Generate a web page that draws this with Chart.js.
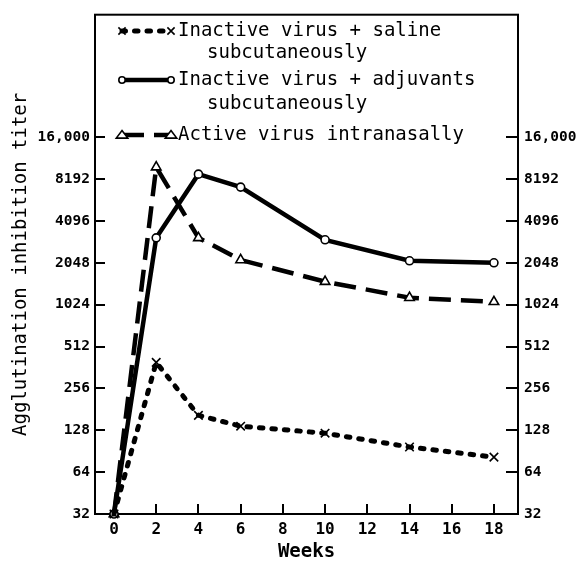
<!DOCTYPE html>
<html><head><meta charset="utf-8">
<script src="https://cdn.jsdelivr.net/npm/chart.js@4.4.1/dist/chart.umd.min.js"></script>
<style>html,body{margin:0;padding:0;background:#fff}#wrap{width:577px;height:562px}</style>
</head><body><div id="wrap"><canvas id="c" width="577" height="562"></canvas></div>
<script>
// ---- data ----
const weeks = [0, 2, 4, 6, 10, 14, 18];
const salineTiter = [32, 394, 164, 137, 122, 97, 82];
const adjuvantTiter = [32, 3100, 8900, 7180, 3000, 2120, 2050];
const activeTiter = [32, 10000, 3100, 2150, 1500, 1150, 1075];
const xTickValues = [0, 2, 4, 6, 8, 10, 12, 14, 16, 18];
const yTickValues = [32, 64, 128, 256, 512, 1024, 2048, 4096, 8192, 16384];
const yTickLabels = ['32', '64', '128', '256', '512', '1024', '2048', '4096', '8192', '16,000'];
const seriesNames = [
  ['Inactive virus + saline', 'subcutaneously'],
  ['Inactive virus + adjuvants', 'subcutaneously'],
  ['Active virus intranasally']
];
const xTitle = 'Weeks';
const yTitle = 'Agglutination inhibition titer';

// ---- styling ----
const FONT = "'DejaVu Sans Mono', 'Liberation Mono', monospace";
const toPts = (vals) => weeks.map((w, i) => ({ x: w, y: vals[i] }));

const datasets = [
  { label: seriesNames[0].join(' '), data: toPts(salineTiter), borderColor: '#000', backgroundColor: '#000',
    borderWidth: 5, borderDash: [3.5, 9], borderCapStyle: 'round',
    pointStyle: 'crossRot', pointRadius: 6, pointBorderWidth: 1.6, pointBorderColor: '#000', pointBackgroundColor: '#fff' },
  { label: seriesNames[1].join(' '), data: toPts(adjuvantTiter), borderColor: '#000', backgroundColor: '#000',
    borderWidth: 4.5, borderDash: [], borderCapStyle: 'butt',
    pointStyle: 'circle', pointRadius: 4, pointBorderWidth: 1.6, pointBorderColor: '#000', pointBackgroundColor: '#fff' },
  { label: seriesNames[2].join(' '), data: toPts(activeTiter), borderColor: '#000', backgroundColor: '#000',
    borderWidth: 4.5, borderDash: [22, 10], borderCapStyle: 'butt',
    pointStyle: 'triangle', pointRadius: 5.5, pointBorderWidth: 1.6, pointBorderColor: '#000', pointBackgroundColor: '#fff' }
];
datasets.forEach(d => { d.tension = 0; d.fill = false; d.clip = 10; d.xAxisID = 'x'; d.yAxisID = 'y'; });

function drawMarker(ctx, style, x, y, r) {
  ctx.save();
  ctx.lineWidth = 1.6; ctx.strokeStyle = '#000'; ctx.fillStyle = '#fff'; ctx.setLineDash([]);
  ctx.beginPath();
  if (style === 'crossRot') {
    const d = r * 0.75;
    ctx.moveTo(x - d, y - d); ctx.lineTo(x + d, y + d);
    ctx.moveTo(x + d, y - d); ctx.lineTo(x - d, y + d);
    ctx.stroke();
  } else if (style === 'circle') {
    ctx.arc(x, y, r, 0, Math.PI * 2); ctx.fill(); ctx.stroke();
  } else {
    const w = r * 1.3;
    ctx.moveTo(x, y - r); ctx.lineTo(x + w, y + r * 0.7); ctx.lineTo(x - w, y + r * 0.7); ctx.closePath();
    ctx.fill(); ctx.stroke();
  }
  ctx.restore();
}

const framePlugin = {
  id: 'frame',
  beforeDatasetsDraw(chart) {
    const { ctx, chartArea: a, scales } = chart;
    ctx.save();
    ctx.strokeStyle = '#000'; ctx.lineWidth = 2; ctx.setLineDash([]);
    ctx.strokeRect(a.left, a.top, a.right - a.left, a.bottom - a.top);
    ctx.beginPath();
    yTickValues.forEach(v => {
      if (v === yTickValues[0]) return;
      const y = Math.round(scales.y.getPixelForValue(v));
      ctx.moveTo(a.left, y); ctx.lineTo(a.left + 10, y);
      ctx.moveTo(a.right - 12, y); ctx.lineTo(a.right, y);
    });
    xTickValues.forEach(v => {
      const x = Math.round(scales.x.getPixelForValue(v));
      ctx.moveTo(x, a.bottom); ctx.lineTo(x, a.bottom - 10);
    });
    ctx.stroke();
    ctx.restore();
  }
};

const legendPlugin = {
  id: 'legendCustom',
  afterDraw(chart) {
    const { ctx } = chart;
    const rows = [[31, 53], [80, 104], [135]];
    const x1 = 122, x2 = 171, tx = 178, tx2 = 207;
    ctx.save();
    chart.data.datasets.forEach((ds, i) => {
      const y = rows[i][0];
      ctx.save();
      ctx.strokeStyle = '#000'; ctx.lineWidth = ds.borderWidth;
      ctx.lineCap = ds.borderCapStyle; ctx.setLineDash(ds.borderDash);
      ctx.beginPath(); ctx.moveTo(x1, y); ctx.lineTo(x2, y); ctx.stroke();
      ctx.restore();
      drawMarker(ctx, ds.pointStyle, x1, y, ds.pointRadius * 0.8);
      drawMarker(ctx, ds.pointStyle, x2, y, ds.pointRadius * 0.8);
      ctx.fillStyle = '#000'; ctx.font = '19px ' + FONT; ctx.textBaseline = 'middle'; ctx.textAlign = 'left';
      seriesNames[i].forEach((t, j) => ctx.fillText(t, j === 0 ? tx : tx2, rows[i][j]));
    });
    ctx.restore();
  }
};

const yTickCb = (v) => { const i = yTickValues.indexOf(v); return i >= 0 ? yTickLabels[i] : ''; };
const setYTicks = (s) => { s.ticks = yTickValues.map(v => ({ value: v })); };
const yMax = 124800;
const tickFont = { family: FONT, size: 14.5, weight: 'bold' };

new Chart(document.getElementById('c'), {
  type: 'line',
  data: { datasets },
  plugins: [framePlugin, legendPlugin],
  options: {
    responsive: false, animation: false, devicePixelRatio: 1,
    layout: { padding: { top: 13, left: 0, right: 0, bottom: 0 } },
    plugins: { legend: { display: false }, tooltip: { enabled: false } },
    scales: {
      x: {
        type: 'linear', position: 'bottom', min: -0.9, max: 19.14,
        afterBuildTicks: (s) => { s.ticks = xTickValues.map(v => ({ value: v })); },
        afterFit: (s) => { s.height = 48; },
        grid: { display: false, drawTicks: false }, border: { display: false },
        ticks: { color: '#000', font: { family: FONT, size: 16, weight: 'bold' }, padding: 6, autoSkip: false, maxRotation: 0,
                 callback: (v) => String(v) },
        title: { display: true, text: xTitle, color: '#000', font: { family: FONT, size: 19, weight: 'bold', lineHeight: 1 }, padding: { top: 0, bottom: 0 } }
      },
      y: {
        type: 'logarithmic', position: 'left', min: 32, max: yMax,
        afterBuildTicks: setYTicks,
        afterFit: (s) => { s.width = 95; },
        grid: { display: false, drawTicks: false }, border: { display: false },
        ticks: { color: '#000', font: tickFont, padding: 5, autoSkip: false, callback: yTickCb },
        title: { display: true, text: yTitle, color: '#000', font: { family: FONT, size: 19 }, padding: { top: 10, bottom: 0 } }
      },
      y2: {
        type: 'logarithmic', position: 'right', min: 32, max: yMax,
        afterBuildTicks: setYTicks,
        afterFit: (s) => { s.width = 59; },
        grid: { display: false, drawTicks: false }, border: { display: false },
        ticks: { color: '#000', font: tickFont, padding: 6, autoSkip: false, callback: yTickCb }
      }
    }
  }
});
</script>
</body></html>
